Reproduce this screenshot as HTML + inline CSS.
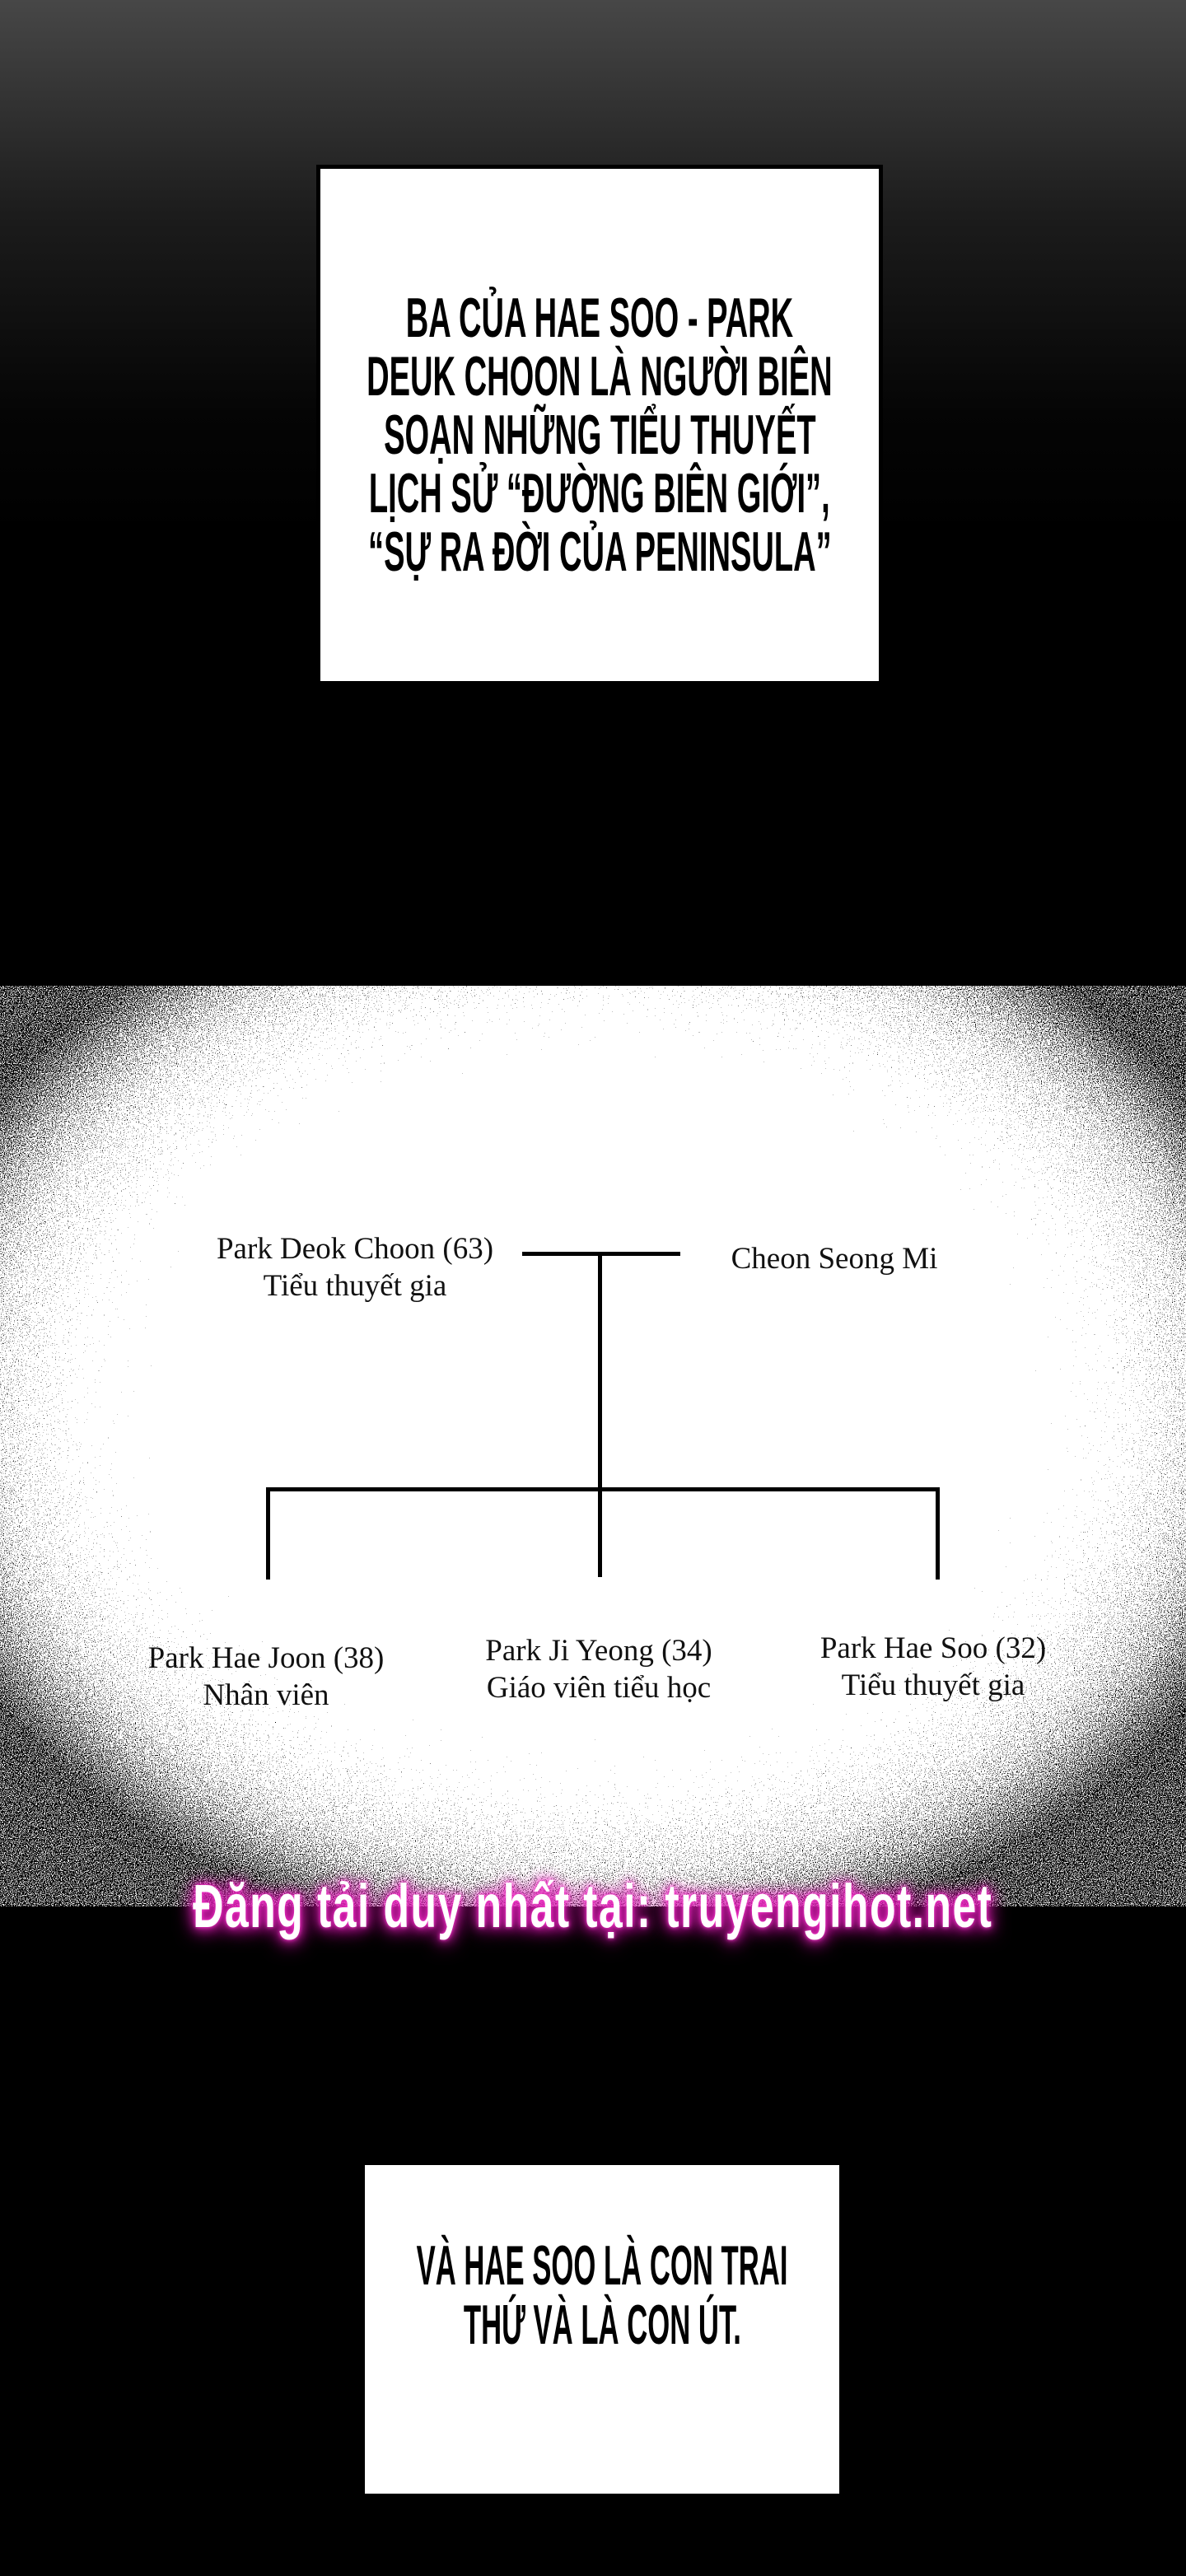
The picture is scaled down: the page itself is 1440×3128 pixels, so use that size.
<!DOCTYPE html>
<html><head><meta charset="utf-8"><style>
html,body{margin:0;padding:0}
body{width:1440px;height:3128px;position:relative;overflow:hidden;background:#000}
.top{position:absolute;left:0;top:0;width:1440px;height:700px;background:linear-gradient(#474747 0px,#1c1c1c 260px,#050505 500px,#000 650px)}
.box{position:absolute;background:#fff;box-sizing:border-box}
.ct{position:absolute;left:-400px;width:calc(100% + 800px);text-align:center;font-family:"Liberation Sans Narrow","Liberation Sans",sans-serif;font-weight:bold;color:#000;white-space:nowrap}
.ct span{display:inline-block;transform:scaleX(0.56)}
.t{position:absolute;font-family:"Liberation Serif",serif;font-size:37px;color:#111;text-align:center;white-space:nowrap;transform:translateX(-50%);line-height:45px}
.ln{position:absolute;background:#000}
.wm{position:absolute;left:-200px;width:1840px;top:2272px;text-align:center;font-family:"Liberation Sans Narrow","Liberation Sans",sans-serif;font-weight:bold;font-size:74px;color:#fff;letter-spacing:2px;text-shadow:0 0 6px #ff3ad0,0 0 14px #e020b8,0 0 24px #d01aa8,0 4px 30px #c0149a;white-space:nowrap}
</style></head><body>
<div class="top"></div>
<div class="box" style="left:384px;top:200px;width:688px;height:632px;border:5px solid #000;">
  <div class="ct" style="top:146px;font-size:68px;line-height:71px;">
  <span>BA CỦA HAE SOO - PARK</span><br><span>DEUK CHOON LÀ NGƯỜI BIÊN</span><br><span>SOẠN NHỮNG TIỂU THUYẾT</span><br><span>LỊCH SỬ “ĐƯỜNG BIÊN GIỚI”,</span><br><span>“SỰ RA ĐỜI CỦA PENINSULA”</span>
  </div>
</div>

<svg style="position:absolute;left:0;top:1197px" width="1440" height="1118" viewBox="0 0 1440 1118">
<defs>
<radialGradient id="rg" cx="0.5" cy="0.45" r="0.6">
<stop offset="0" stop-color="#fff"/><stop offset="0.55" stop-color="#fff"/><stop offset="0.85" stop-color="#b0b0b0"/><stop offset="1" stop-color="#707070"/>
</radialGradient>
<filter id="nz" x="0" y="0" width="100%" height="100%" color-interpolation-filters="sRGB">
<feTurbulence type="fractalNoise" baseFrequency="0.9" numOctaves="1" seed="3" result="n"/>
<feColorMatrix in="n" type="matrix" values="1 0 0 0 0  1 0 0 0 0  1 0 0 0 0  0 0 0 0 1" result="g"/>
<feComposite in="SourceGraphic" in2="g" operator="arithmetic" k1="0" k2="1" k3="1.3" k4="-0.65" result="s"/>
<feComponentTransfer in="s"><feFuncR type="discrete" tableValues="0 1"/><feFuncG type="discrete" tableValues="0 1"/><feFuncB type="discrete" tableValues="0 1"/></feComponentTransfer>
</filter>
</defs>
<rect width="1440" height="1118" fill="url(#rg)" filter="url(#nz)"/>
</svg>

<div class="ln" style="left:634px;top:1520px;width:192px;height:5px"></div>
<div class="ln" style="left:726px;top:1520px;width:5px;height:395px"></div>
<div class="ln" style="left:323px;top:1806px;width:818px;height:5px"></div>
<div class="ln" style="left:323px;top:1806px;width:5px;height:112px"></div>
<div class="ln" style="left:1136px;top:1806px;width:5px;height:112px"></div>

<div class="t" style="left:431px;top:1494px">Park Deok Choon (63)<br>Tiểu thuyết gia</div>
<div class="t" style="left:1013px;top:1506px">Cheon Seong Mi</div>
<div class="t" style="left:323px;top:1991px">Park Hae Joon (38)<br>Nhân viên</div>
<div class="t" style="left:727px;top:1982px">Park Ji Yeong (34)<br>Giáo viên tiểu học</div>
<div class="t" style="left:1133px;top:1979px">Park Hae Soo (32)<br>Tiểu thuyết gia</div>

<div class="wm"><span style="display:inline-block;transform:scaleX(0.7)">Đăng tải duy nhất tại: truyengihot.net</span></div>

<div class="box" style="left:443px;top:2629px;width:576px;height:399px;">
  <div class="ct" style="top:86px;font-size:68px;line-height:72px;">
  <span style="transform:scaleX(0.51)">VÀ HAE SOO LÀ CON TRAI</span><br><span style="transform:scaleX(0.51)">THỨ VÀ LÀ CON ÚT.</span>
  </div>
</div>
</body></html>
